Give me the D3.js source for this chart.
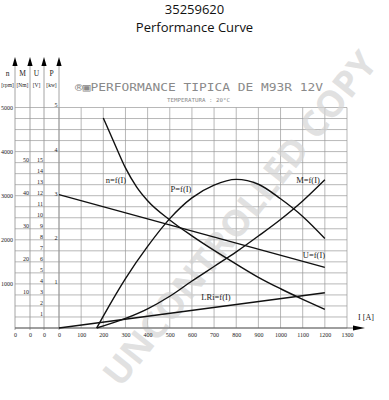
<!DOCTYPE html>
<html>
<head>
<meta charset="utf-8">
<script src="https://cdn.jsdelivr.net/npm/d3@7"></script>
<style>
  html, body { margin: 0; padding: 0; background: #fff; }
  svg { display: block; }
</style>
</head>
<body>
<svg id="chart" width="389" height="400"></svg>
<script>
// ---------------- DATA ----------------
const titleLines = ["35259620", "Performance Curve"];
const headerText = "\u00AE\u25A3PERFORMANCE TIPICA DE M93R 12V";
const subHeaderText = "TEMPERATURA : 20\u00B0C";

const currentTicks = [0,100,200,300,400,500,600,700,800,900,1000,1100,1200,1300];
const speedTicks = [1000,2000,3000,4000,5000];
const torqueTicks = [10,20,30,40,50];
const voltageTicks = [1,2,3,4,5,6,7,8,9,10,11,12,13,14,15];
const powerTicks = [1,2,3,4,5];

// n = f(I)  [rpm]
const speedCurrent = [200,250,300,350,400,500,600,700,800,900,1000,1100,1200];
const speedValues  = [4760,4190,3630,3200,2885,2450,2090,1760,1450,1150,890,650,420];

// P = f(I)  [kW]
const powerCurrent = [170,200,300,400,500,600,700,800,900,1000,1100,1200];
const powerValues  = [0,0.27,1.12,1.85,2.48,2.95,3.24,3.37,3.26,2.93,2.53,2.03];

// M = f(I)  [Nm]
const torqueCurrent = [170,300,400,500,600,700,800,900,1000,1100,1200];
const torqueValues  = [0,2.9,5.8,9.6,14.2,18.6,23.0,27.8,32.8,38.4,44.8];

// U = f(I)  [V]
const voltageCurrent = [0,1200];
const voltageValues  = [12.1,5.5];

// LRi = f(I)  [V]
const dropCurrent = [0,1200];
const dropValues  = [0,3.2];

// ---------------- LAYOUT ----------------
const svg = d3.select("#chart");
const yBottom = 328, yTop = 107.5;
const x  = d3.scaleLinear().domain([0,1300]).range([59,347]);
const yN = d3.scaleLinear().domain([0,5000]).range([yBottom,yTop]);
const yU = d3.scaleLinear().domain([0,20]).range([yBottom,yTop]);
const yM = d3.scaleLinear().domain([0,5000/75]).range([yBottom,yTop]);
const yP = d3.scaleLinear().domain([0,5]).range([yBottom,yTop]);
const axisX = {n:15, M:30, U:44, P:59};
const gridColor = "#9a9a9a";
const serif = "'Liberation Serif', 'DejaVu Serif', serif";
const fmt = d3.format("d");

// Titles
svg.append("text").attr("x",194.5).attr("y",14).attr("text-anchor","middle")
  .style("font-family","'Open Sans', sans-serif").style("font-size","13px").attr("fill","#111")
  .text(titleLines[0]);
svg.append("text").attr("x",194.5).attr("y",32).attr("text-anchor","middle")
  .style("font-family","'Open Sans', sans-serif").style("font-size","13px").attr("fill","#111")
  .text(titleLines[1]);

// Header inside chart
svg.append("text").attr("x",75).attr("y",91)
  .attr("textLength",248).attr("lengthAdjust","spacingAndGlyphs")
  .style("font-family","'DejaVu Sans Mono', monospace").style("font-size","11px")
  .attr("fill","#8a8a8a").text(headerText);
svg.append("text").attr("x",167).attr("y",101.5)
  .attr("textLength",63).attr("lengthAdjust","spacingAndGlyphs")
  .style("font-family","'DejaVu Sans Mono', monospace").style("font-size","5.5px")
  .attr("fill","#8a8a8a").text(subHeaderText);

// Grid: horizontal lines every 250 rpm
const hLines = d3.range(0,5001,250);
svg.append("g").selectAll("line").data(hLines).join("line")
  .attr("x1",axisX.n).attr("x2",x(1300))
  .attr("y1",d=>yN(d)).attr("y2",d=>yN(d))
  .attr("stroke",gridColor).attr("stroke-width",0.7);
// vertical lines every 100 A
svg.append("g").selectAll("line").data(currentTicks).join("line")
  .attr("x1",d=>x(d)).attr("x2",d=>x(d))
  .attr("y1",yTop).attr("y2",yBottom)
  .attr("stroke",gridColor).attr("stroke-width",0.7);

// Watermark
svg.append("text")
  .attr("transform","translate(239,218) rotate(-51.5)")
  .attr("text-anchor","middle").attr("dominant-baseline","central")
  .attr("textLength",415).attr("lengthAdjust","spacingAndGlyphs")
  .style("font-family","'Open Sans', sans-serif").style("font-weight","bold").style("font-size","36px")
  .attr("fill","#d4d4d4").attr("fill-opacity",0.7)
  .text("UNCONTROLLED COPY");

// Left quantity axes with arrows
const axesDef = [
  {key:"n", name:"n", unit:"[rpm]"},
  {key:"M", name:"M", unit:"[Nm]"},
  {key:"U", name:"U", unit:"[V]"},
  {key:"P", name:"P", unit:"[kw]"}
];
axesDef.forEach(a=>{
  const ax = axisX[a.key];
  svg.append("line").attr("x1",ax).attr("x2",ax).attr("y1",64).attr("y2",yBottom+2)
    .attr("stroke",gridColor).attr("stroke-width",0.9);
  svg.append("path").attr("d",`M${ax-2.6},66 L${ax},57 L${ax+2.6},66 Z`).attr("fill","#000");
  svg.append("text").attr("x",ax-7.5).attr("y",76).attr("text-anchor","middle")
    .style("font-family",serif).style("font-size","7.5px").attr("fill","#222").text(a.name);
  svg.append("text").attr("x",ax-7.5).attr("y",87).attr("text-anchor","middle")
    .style("font-family",serif).style("font-size","5.5px").attr("fill","#222").text(a.unit);
});

// Tick labels via d3 axes
function styleAxis(g){
  g.select(".domain").remove();
  g.selectAll(".tick line").remove();
  g.selectAll("text").style("font-family",serif).style("font-size","6px").attr("fill","#222");
}
svg.append("g").attr("transform",`translate(${axisX.n-1},0)`)
  .call(d3.axisLeft(yN).tickValues(speedTicks).tickFormat(fmt).tickSize(0).tickPadding(1)).call(styleAxis);
svg.append("g").attr("transform",`translate(${axisX.M-0.5},-3.5)`)
  .call(d3.axisLeft(yM).tickValues(torqueTicks).tickFormat(fmt).tickSize(0).tickPadding(0.5)).call(styleAxis);
svg.append("g").attr("transform",`translate(${axisX.U-0.5},-3.5)`)
  .call(d3.axisLeft(yU).tickValues(voltageTicks).tickFormat(fmt).tickSize(0).tickPadding(0.5)).call(styleAxis);
svg.append("g").attr("transform",`translate(${axisX.P-1},-2.5)`)
  .call(d3.axisLeft(yP).tickValues(powerTicks).tickFormat(fmt).tickSize(0).tickPadding(0.5)).call(styleAxis);

// Bottom axis
svg.append("line").attr("x1",axisX.n).attr("x2",356).attr("y1",yBottom).attr("y2",yBottom)
  .attr("stroke","#555").attr("stroke-width",0.9);
svg.append("path").attr("d",`M353,${yBottom-2.5} L365,${yBottom} L353,${yBottom+2.5} Z`).attr("fill","#000");
svg.append("g").attr("transform",`translate(0,${yBottom+3})`)
  .call(d3.axisBottom(x).tickValues(currentTicks).tickSize(0).tickPadding(2).tickFormat(fmt))
  .call(styleAxis);
// zero labels under the quantity axes
["n","M","U"].forEach(k=>{
  svg.append("text").attr("x",axisX[k]+0.5).attr("y",yBottom+9).attr("text-anchor","middle")
    .style("font-family",serif).style("font-size","6px").attr("fill","#222").text("0");
});
svg.append("text").attr("x",366).attr("y",320).attr("text-anchor","middle")
  .style("font-family",serif).style("font-size","8px").attr("fill","#222").text("I [A]");

// Curves
function curve(xs, ys, yScale, smooth){
  const pts = xs.map((v,i)=>[x(v), yScale(ys[i])]);
  const line = d3.line().curve(smooth ? d3.curveMonotoneX : d3.curveLinear);
  svg.append("path").attr("d",line(pts)).attr("fill","none")
    .attr("stroke","#111").attr("stroke-width",1.4);
}
curve(speedCurrent, speedValues, yN, true);
curve(powerCurrent, powerValues, yP, true);
curve(torqueCurrent, torqueValues, yM, true);
curve(voltageCurrent, voltageValues, yU, false);
curve(dropCurrent, dropValues, yU, false);

// Curve labels
const labels = [
  {t:"n=f(I)", x:116, y:183},
  {t:"P=f(I)", x:181, y:192},
  {t:"M=f(I)", x:308, y:183},
  {t:"U=f(I)", x:314, y:258},
  {t:"LRi=f(I)", x:216, y:300}
];
svg.append("g").selectAll("text").data(labels).join("text")
  .attr("x",d=>d.x).attr("y",d=>d.y).attr("text-anchor","middle")
  .style("font-family",serif).style("font-size","8.5px").attr("fill","#222")
  .text(d=>d.t);
</script>
</body>
</html>
